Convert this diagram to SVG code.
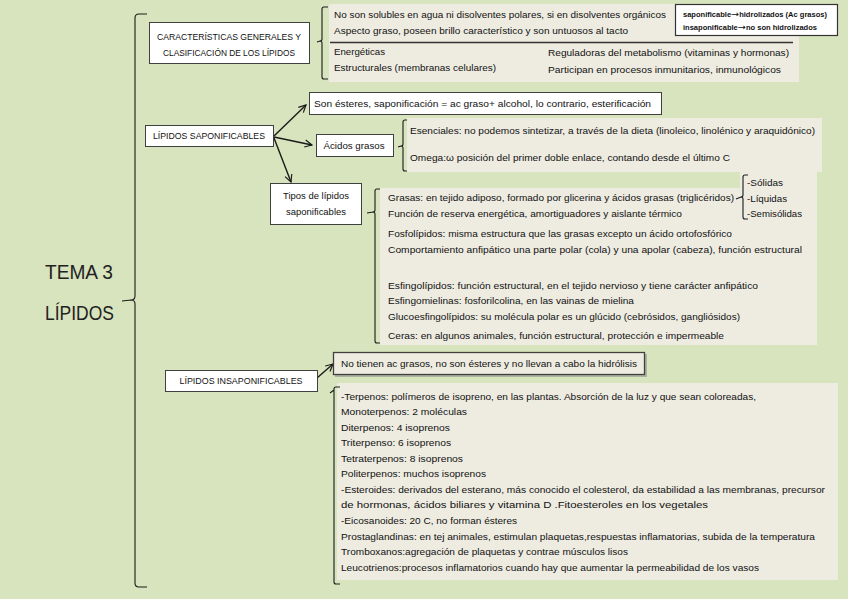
<svg xmlns="http://www.w3.org/2000/svg" width="848" height="599" viewBox="0 0 848 599">
<defs>
<marker id="ah" viewBox="0 0 10 10" refX="9" refY="5" markerWidth="9" markerHeight="9" orient="auto" markerUnits="userSpaceOnUse">
<path d="M1,1 L9,5 L1,9" fill="none" stroke="#1a1a1a" stroke-width="1.3"/>
</marker>
<style>
text{font-family:"Liberation Sans",Arial,sans-serif;fill:#111}
.t{font-size:9.5px}
.m{font-size:8.5px}
.x{font-size:7px;font-weight:bold}
.ar2{font-family:"DejaVu Sans",sans-serif;font-weight:normal;font-size:9px}
.big{font-size:20px;fill:#222}
.box{fill:#fff;stroke:#404040;stroke-width:1}
.pan{fill:#eeece1}
.br{fill:none;stroke:#1a1a1a;stroke-width:1.1}
.ar{fill:none;stroke:#1a1a1a;stroke-width:1.4}
</style>
</defs>
<rect width="848" height="599" fill="#d8e4bd"/>

<g id="title">
<text class="big" x="45" y="279" textLength="68" lengthAdjust="spacingAndGlyphs">TEMA 3</text>
<text class="big" x="45" y="320" textLength="69" lengthAdjust="spacingAndGlyphs">LÍPIDOS</text>
</g>

<g id="braces">
<path class="br" d="M147,14 L139,14 Q135,14 135,18 L135,296 Q135,300 131,300 L122,301 M131,300 Q135,300 135,304 L135,583 Q135,587 139,587 L147,587"/>
<path class="br" d="M328,7 L324,7 Q322,7 322,9 L322,39 Q322,41 320,41 L317,42 M320,41 Q322,41 322,43 L322,77 Q322,79 324,79 L328,79"/>
<path class="br" d="M408,120 L405,120 Q403,120 403,122 L403,144 Q403,146 401,146 L398,147 M401,146 Q403,146 403,148 L403,169 Q403,171 405,171 L408,171"/>
<path class="br" d="M381,189 L377,189 Q375,189 375,191 L375,210 Q375,212 373,212 L367,213 M373,212 Q375,212 375,214 L375,341 Q375,343 377,343 L381,343"/>
</g>

<g id="connectors">
<line class="ar" x1="274" y1="136" x2="306" y2="105" marker-end="url(#ah)"/>
<line class="ar" x1="274" y1="137" x2="312" y2="145" marker-end="url(#ah)"/>
<line class="ar" x1="274" y1="138" x2="291" y2="182" marker-end="url(#ah)"/>
<line class="ar" x1="317" y1="378" x2="333" y2="364" marker-end="url(#ah)"/>
</g>

<g id="node-caracteristicas">
<rect class="box" x="149.5" y="22.5" width="160" height="41"/>
<text class="m" x="229" y="40" text-anchor="middle" textLength="144" lengthAdjust="spacingAndGlyphs">CARACTERÍSTICAS GENERALES Y</text>
<text class="m" x="229" y="56" text-anchor="middle" textLength="132" lengthAdjust="spacingAndGlyphs">CLASIFICACIÓN DE LOS LÍPIDOS</text>
</g>

<g id="panel-caracteristicas">
<rect class="pan" x="329" y="4" width="470" height="78"/>
<text class="t" x="334" y="18" textLength="332" lengthAdjust="spacingAndGlyphs">No son solubles en agua ni disolventes polares, si en disolventes orgánicos</text>
<text class="t" x="334" y="34" textLength="294" lengthAdjust="spacingAndGlyphs">Aspecto graso, poseen brillo característico y son untuosos al tacto</text>
<line x1="330" y1="42.5" x2="793" y2="42.5" stroke="#333" stroke-width="1.3"/>
<text class="t" x="334" y="55" textLength="51" lengthAdjust="spacingAndGlyphs">Energéticas</text>
<text class="t" x="334" y="71" textLength="162" lengthAdjust="spacingAndGlyphs">Estructurales (membranas celulares)</text>
<text class="t" x="548" y="56" textLength="241" lengthAdjust="spacingAndGlyphs">Reguladoras del metabolismo (vitaminas y hormonas)</text>
<text class="t" x="548" y="73" textLength="233" lengthAdjust="spacingAndGlyphs">Participan en procesos inmunitarios, inmunológicos</text>
</g>

<g id="node-hidrolisis">
<rect x="675.5" y="4.5" width="162" height="31" fill="#fff" stroke="#333" stroke-width="1.2"/>
<text class="x" x="683" y="17" textLength="144" lengthAdjust="spacingAndGlyphs">saponificable<tspan class="ar2">→</tspan>hidrolizados (Ac grasos)</text>
<text class="x" x="683" y="30" textLength="134" lengthAdjust="spacingAndGlyphs">insaponificable<tspan class="ar2">→</tspan>no son hidrolizados</text>
</g>

<g id="node-saponificables">
<rect class="box" x="145.5" y="125.5" width="128" height="21"/>
<text class="m" x="209" y="139" text-anchor="middle" textLength="112" lengthAdjust="spacingAndGlyphs">LÍPIDOS SAPONIFICABLES</text>
</g>

<g id="node-esteres">
<rect class="box" x="309.5" y="92.5" width="352" height="22"/>
<text class="t" x="314" y="106.5" textLength="337" lengthAdjust="spacingAndGlyphs">Son ésteres, saponificación = ac graso+ alcohol, lo contrario, esterificación</text>
</g>

<g id="node-acidos">
<rect class="box" x="316.5" y="134.5" width="77" height="22"/>
<text class="t" x="354" y="149" text-anchor="middle" textLength="61" lengthAdjust="spacingAndGlyphs">Ácidos grasos</text>
</g>

<g id="panel-acidos">
<rect class="pan" x="407" y="118" width="415" height="54"/>
<text class="t" x="410" y="134" textLength="405" lengthAdjust="spacingAndGlyphs">Esenciales: no podemos sintetizar, a través de la dieta (linoleico, linolénico y araquidónico)</text>
<text class="t" x="410" y="161" textLength="320" lengthAdjust="spacingAndGlyphs">Omega:ω posición del primer doble enlace, contando desde el último C</text>
</g>

<g id="node-tipos">
<rect class="box" x="270.5" y="183.5" width="91" height="41"/>
<text class="t" x="316" y="199" text-anchor="middle" textLength="66" lengthAdjust="spacingAndGlyphs">Tipos de lípidos</text>
<text class="t" x="316" y="215" text-anchor="middle" textLength="60" lengthAdjust="spacingAndGlyphs">saponificables</text>
</g>

<g id="panel-tipos">
<rect class="pan" x="380" y="188" width="437" height="157"/>
<rect class="pan" x="740" y="172" width="77" height="20"/>
<path class="br" d="M748,175 L745,175 Q743,175 743,177 L743,195 Q743,197 741,197 L736,199 M741,197 Q743,197 743,199 L743,217 Q743,219 745,219 L748,219"/>
<text class="t" x="747" y="186" textLength="36" lengthAdjust="spacingAndGlyphs">-Sólidas</text>
<text class="t" x="747" y="202" textLength="40" lengthAdjust="spacingAndGlyphs">-Líquidas</text>
<text class="t" x="747" y="217" textLength="55" lengthAdjust="spacingAndGlyphs">-Semisólidas</text>
<text class="t" x="388" y="201" textLength="346" lengthAdjust="spacingAndGlyphs">Grasas: en tejido adiposo, formado por glicerina y ácidos grasas (triglicéridos)</text>
<text class="t" x="388" y="217" textLength="294" lengthAdjust="spacingAndGlyphs">Función de reserva energética, amortiguadores y aislante térmico</text>
<text class="t" x="388" y="237" textLength="344" lengthAdjust="spacingAndGlyphs">Fosfolípidos: misma estructura que las grasas excepto un ácido ortofosfórico</text>
<text class="t" x="388" y="253" textLength="414" lengthAdjust="spacingAndGlyphs">Comportamiento anfipático una parte polar (cola) y una apolar (cabeza), función estructural</text>
<text class="t" x="388" y="289" textLength="370" lengthAdjust="spacingAndGlyphs">Esfingolípidos: función estructural, en el tejido nervioso y tiene carácter anfipático</text>
<text class="t" x="388" y="304" textLength="246" lengthAdjust="spacingAndGlyphs">Esfingomielinas: fosforilcolina, en las vainas de mielina</text>
<text class="t" x="388" y="320" textLength="352" lengthAdjust="spacingAndGlyphs">Glucoesfingolípidos: su molécula polar es un glúcido (cebrósidos, gangliósidos)</text>
<text class="t" x="388" y="339" textLength="336" lengthAdjust="spacingAndGlyphs">Ceras: en algunos animales, función estructural, protección e impermeable</text>
</g>

<g id="node-insaponificables">
<rect class="box" x="165.5" y="370.5" width="152" height="21"/>
<text class="m" x="241" y="384" text-anchor="middle" textLength="123" lengthAdjust="spacingAndGlyphs">LÍPIDOS INSAPONIFICABLES</text>
</g>

<g id="node-no-tienen">
<rect x="335" y="354" width="312" height="23" fill="#7f7f7f" opacity="0.5"/>
<rect x="333.5" y="352.5" width="311" height="22" fill="#eeece1" stroke="#404040" stroke-width="1.3"/>
<text class="t" x="341" y="367" textLength="296" lengthAdjust="spacingAndGlyphs">No tienen ac grasos, no son ésteres y no llevan a cabo la hidrólisis</text>
</g>

<g id="panel-insaponificables">
<rect class="pan" x="337" y="383" width="501" height="197"/>
<path class="br" d="M340,387 L336,387 Q334,387 334,389 L334,582 Q334,584 336,584 L340,584 M334,390 L330,393"/>
<text class="t" x="341" y="400" textLength="415" lengthAdjust="spacingAndGlyphs">-Terpenos: polímeros de isopreno, en las plantas. Absorción de la luz y que sean coloreadas,</text>
<text class="t" x="341" y="415" textLength="126" lengthAdjust="spacingAndGlyphs">Monoterpenos: 2 moléculas</text>
<text class="t" x="341" y="431" textLength="109" lengthAdjust="spacingAndGlyphs">Diterpenos: 4 isoprenos</text>
<text class="t" x="341" y="446" textLength="110" lengthAdjust="spacingAndGlyphs">Triterpenso: 6 isoprenos</text>
<text class="t" x="341" y="462" textLength="122" lengthAdjust="spacingAndGlyphs">Tetraterpenos: 8 isoprenos</text>
<text class="t" x="341" y="477" textLength="145" lengthAdjust="spacingAndGlyphs">Politerpenos: muchos isoprenos</text>
<text class="t" x="341" y="493" textLength="484" lengthAdjust="spacingAndGlyphs">-Esteroides: derivados del esterano, más conocido el colesterol, da estabilidad a las membranas, precursor</text>
<text class="t" x="341" y="508" textLength="367" lengthAdjust="spacingAndGlyphs">de hormonas, ácidos biliares y vitamina D .Fitoesteroles en los vegetales</text>
<text class="t" x="341" y="524" textLength="176" lengthAdjust="spacingAndGlyphs">-Eicosanoides: 20 C, no forman ésteres</text>
<text class="t" x="341" y="540" textLength="474" lengthAdjust="spacingAndGlyphs">Prostaglandinas: en tej animales, estimulan plaquetas,respuestas inflamatorias, subida de la temperatura</text>
<text class="t" x="341" y="555" textLength="287" lengthAdjust="spacingAndGlyphs">Tromboxanos:agregación de plaquetas y contrae músculos lisos</text>
<text class="t" x="341" y="571" textLength="418" lengthAdjust="spacingAndGlyphs">Leucotrienos:procesos inflamatorios cuando hay que aumentar la permeabilidad de los vasos</text>
</g>
</svg>
